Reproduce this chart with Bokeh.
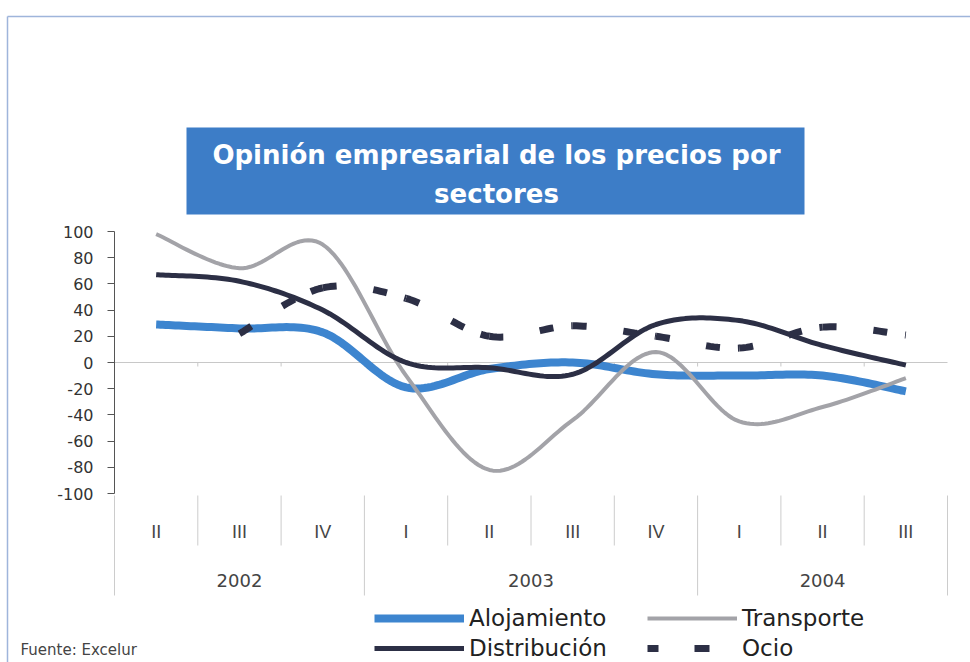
import numpy as np
from bokeh.plotting import figure
from bokeh.models import Range1d, LinearAxis, FixedTicker, Legend, LegendItem
from bokeh.core.properties import value
from bokeh.embed import file_html
from bokeh.resources import INLINE

# ---------------- data ----------------
quarters = ["II", "III", "IV", "I", "II", "III", "IV", "I", "II", "III"]
years = ["2002", "2003", "2004"]
quarters_per_year = [3, 4, 3]
alojamiento = [29, 26, 23, -19, -5, 0, -9, -10, -10, -22]
transporte = [98, 72, 90, -10, -82, -44, 8, -45, -34, -12]
distribucion = [67, 62, 40, 0, -4, -9, 29, 32, 13, -2]
ocio = [None, 22, 57, 49, 20, 28, 20, 11, 27, 21]
y_ticks = list(range(-100, 101, 20))
title_text = "Opinión empresarial de los precios por\nsectores"
source_note = "Fuente: Excelur"

# ---------------- layout helpers ----------------
W, H = 970, 662
X_UNIT = 83.3      # px per category
X0 = 114           # page x of first category boundary
Y_UNIT = 1.31      # px per value unit
Y0 = 362           # page y of value 0
FONT = value("Liberation Sans")
WIDE = value("DejaVu Sans")


def dx(px):
    return (px - X0) / X_UNIT


def dy(py):
    return (Y0 - py) / Y_UNIT


def smooth_segments(xs, ys, n=24):
    pts = [(x, y) for x, y in zip(xs, ys) if y is not None]
    P = np.array(pts, dtype=float)
    segs = []
    for i in range(len(P) - 1):
        p0 = P[i - 1] if i > 0 else P[i]
        p1 = P[i]
        p2 = P[i + 1]
        p3 = P[i + 2] if i + 2 < len(P) else P[i + 1]
        c1 = p1 + (p2 - p0) / 6.0
        c2 = p2 - (p3 - p1) / 6.0
        t = np.linspace(0, 1, n)[:, None]
        seg = ((1 - t) ** 3) * p1 + 3 * ((1 - t) ** 2) * t * c1 + 3 * (1 - t) * t ** 2 * c2 + t ** 3 * p2
        segs.append(seg)
    return segs


def smooth(xs, ys):
    segs = smooth_segments(xs, ys)
    arr = np.vstack([s[:-1] for s in segs[:-1]] + [segs[-1]])
    return arr[:, 0], arr[:, 1]


cat_x = [i + 0.5 for i in range(len(quarters))]

p = figure(width=W, height=H, output_backend="svg", toolbar_location=None,
           x_range=Range1d(dx(0), dx(W)), y_range=Range1d(dy(H), dy(0)),
           x_axis_type=None, y_axis_type=None,
           min_border=0, min_border_left=0, min_border_right=0,
           min_border_top=0, min_border_bottom=0)
p.outline_line_color = None
p.xgrid.visible = False
p.ygrid.visible = False
p.background_fill_color = "white"
p.border_fill_color = "white"

# outer frame (top and left edges)
p.segment(x0=[dx(7), dx(7)], y0=[dy(16), dy(16)],
          x1=[dx(W), dx(7)], y1=[dy(16), dy(H)],
          line_color="#9fb5db", line_width=1.5)

# title box
p.quad(left=[dx(186)], right=[dx(804)], top=[dy(127)], bottom=[dy(214)],
       fill_color="#3d7dc7", line_color=None)
p.text(x=[dx(496)], y=[dy(174)], text=[title_text], text_font=WIDE,
       text_font_size="26px", text_font_style="bold", text_color="white",
       text_align="center", text_baseline="middle", text_line_height=1.28)

# zero line and separators
n = len(quarters)
p.segment(x0=[0], y0=[0], x1=[n], y1=[0], line_color="#c8c8c8", line_width=1)
p.segment(x0=list(range(1, n)), y0=[0] * (n - 1), x1=list(range(1, n)),
          y1=[dy(Y0 + 4)] * (n - 1), line_color="#c8c8c8", line_width=1)

year_bounds = [0]
for c in quarters_per_year:
    year_bounds.append(year_bounds[-1] + c)
quarter_bounds = [b for b in range(1, n) if b not in year_bounds]
p.segment(x0=quarter_bounds, y0=[dy(495)] * len(quarter_bounds),
          x1=quarter_bounds, y1=[dy(545)] * len(quarter_bounds),
          line_color="#cccccc", line_width=1)
p.segment(x0=year_bounds, y0=[dy(495)] * len(year_bounds),
          x1=year_bounds, y1=[dy(595)] * len(year_bounds),
          line_color="#cccccc", line_width=1)

# category labels
p.text(x=cat_x, y=[dy(531)] * n, text=quarters, text_font=FONT,
       text_font_size="18px", text_color="#444444",
       text_align="center", text_baseline="middle")
year_x = [(year_bounds[i] + year_bounds[i + 1]) / 2 for i in range(len(years))]
p.text(x=year_x, y=[dy(580)] * len(years), text=years, text_font=WIDE,
       text_font_size="18px", text_color="#444444",
       text_align="center", text_baseline="middle")

# y axis
yaxis = LinearAxis(fixed_location=0, bounds=(-100, 100),
                   ticker=FixedTicker(ticks=y_ticks))
yaxis.major_label_overrides = {t: str(t) for t in y_ticks}
yaxis.axis_line_color = "#555555"
yaxis.major_tick_line_color = "#555555"
yaxis.major_tick_out = 7
yaxis.major_tick_in = 0
yaxis.minor_tick_out = 0
yaxis.minor_tick_in = 0
yaxis.major_label_standoff = 14
yaxis.major_label_text_font = "DejaVu Sans"
yaxis.major_label_text_font_size = "16px"
yaxis.major_label_text_color = "#333333"
p.add_layout(yaxis, "left")

# series
xs, ys = smooth(cat_x, alojamiento)
r_aloj = p.line(xs, ys, line_color="#3d85cf", line_width=8, line_join="round")
xs, ys = smooth(cat_x, transporte)
r_trans = p.line(xs, ys, line_color="#a3a3a8", line_width=4, line_join="round")
xs, ys = smooth(cat_x, distribucion)
r_dist = p.line(xs, ys, line_color="#2c2f45", line_width=5, line_join="round")
segs = smooth_segments(cat_x, ocio)
r_ocio = p.multi_line([list(s[:, 0]) for s in segs], [list(s[:, 1]) for s in segs],
                      line_color="#2c2f45", line_width=7, line_dash="14 37 14 18")
# legend swatch for Ocio (Excel draws its key with its own dash phase); no visible data
r_ocio_key = p.line([np.nan, np.nan], [np.nan, np.nan], line_color="#2c2f45",
                    line_width=7, line_dash="11 36 15 40")

legend = Legend(items=[LegendItem(label="Alojamiento", renderers=[r_aloj]),
                       LegendItem(label="Transporte", renderers=[r_trans]),
                       LegendItem(label="Distribución", renderers=[r_dist]),
                       LegendItem(label="Ocio", renderers=[r_ocio_key])],
                orientation="horizontal", ncols=2, location=(374, -1),
                glyph_width=90, glyph_height=30, label_height=30, label_width=178,
                label_standoff=5, spacing=0, padding=0, margin=0,
                border_line_color=None, background_fill_alpha=0,
                label_text_font="DejaVu Sans", label_text_font_size="23px",
                label_text_color="#222222")
p.add_layout(legend)

# source note
p.text(x=[dx(20)], y=[dy(649)], text=[source_note], text_font=WIDE,
       text_font_size="15px", text_color="#444444",
       text_align="left", text_baseline="middle")

open("out.html", "w").write(file_html(p, INLINE))
